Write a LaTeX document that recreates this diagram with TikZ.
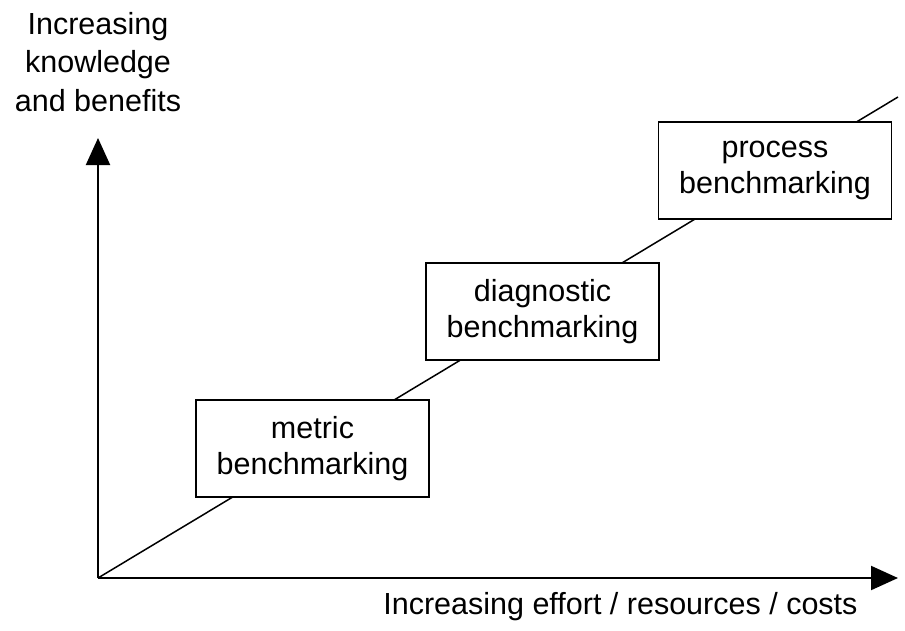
\documentclass[tikz,border=0pt]{standalone}
\usepackage{fontspec}
\setmainfont{Liberation Sans}
\usetikzlibrary{arrows.meta}
\begin{document}
\begin{tikzpicture}[x=1pt,y=-1pt,
  axis/.style={line width=2pt, -{Triangle[width=24pt,length=27pt]}},
  trend/.style={line width=1.5pt},
  stagebox/.style={draw, line width=1.8pt, fill=white, minimum width=233pt,
    minimum height=97pt, align=center, inner sep=0pt,
    font=\fontsize{30.5}{36}\selectfont},
  axislabel/.style={align=center, font=\fontsize{30.5}{38.5}\selectfont}]
  \useasboundingbox (0,0) rectangle (905,630);

  % axes
  \coordinate (O) at (98,578);
  \coordinate (ytop) at (98,138);
  \coordinate (xend) at (898,578);
  \coordinate (lineend) at (898,97);
  \draw[axis] (O) -- (ytop);
  \draw[axis] (O) -- (xend);

  % rising trend line behind the stages
  \draw[trend] (O) -- (lineend);

  % benchmarking stages
  \node[stagebox] (metric) at (312.5,448.5) {metric\\benchmarking};
  \node[stagebox] (diag) at (542.5,311.5) {diagnostic\\benchmarking};
  \node[stagebox] (proc) at (775,170.5) {process\\benchmarking};

  % axis labels
  \node[axislabel] (ylab) at (98,62) {Increasing\\knowledge\\and benefits};
  \node[axislabel, anchor=east] (xlab) at (861,607) {Increasing effort / resources / costs};
\end{tikzpicture}
\end{document}
